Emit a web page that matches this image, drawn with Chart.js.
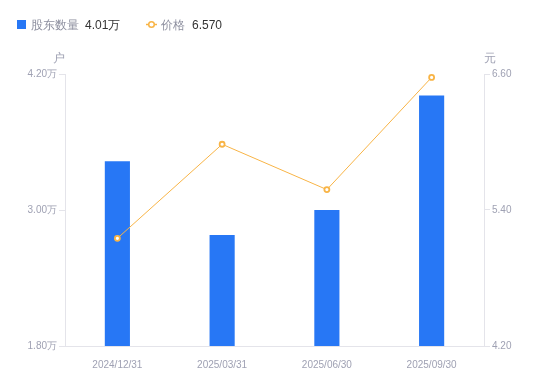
<!DOCTYPE html>
<html>
<head>
<meta charset="utf-8">
<script src="https://cdn.jsdelivr.net/npm/chart.js@4"></script>
<style>
  html, body { margin: 0; padding: 0; background: #fff; }
  #wrap { width: 550px; height: 381px; position: relative; }
</style>
</head>
<body>
<div id="wrap"><canvas id="chart"></canvas></div>
<script>
const categories = ["2024/12/31", "2025/03/31", "2025/06/30", "2025/09/30"];
const holders = [3.43, 2.78, 3.00, 4.01]; // 万户
const prices = [5.15, 5.98, 5.58, 6.57]; // 元
const holderTicks = [1.8, 4.2, 1.2]; // min, max, step
const priceTicks = [4.2, 6.6, 1.2];

const blue = "#2777f5";
const orange = "#f8b446";
const tickColor = "#9fa1b3";
const lineColor = "#e4e4ea";
const font = "'Liberation Sans', Arial, sans-serif";

// legend and axis units drawn on the canvas
const extras = {
  id: "extras",
  afterDraw(chart) {
    const ctx = chart.ctx;
    const area = chart.chartArea;
    ctx.save();
    ctx.textBaseline = "middle";
    ctx.font = "12px " + font;

    ctx.fillStyle = blue;
    ctx.fillRect(17, 20, 9, 9);
    ctx.fillStyle = "#8d8f9f";
    ctx.fillText("股东数量", 31, 25.5);
    ctx.fillStyle = "#333";
    ctx.fillText(holders[holders.length - 1].toFixed(2) + "万", 85, 25.5);

    ctx.strokeStyle = orange;
    ctx.lineWidth = 1.5;
    ctx.beginPath();
    ctx.moveTo(146, 24.5);
    ctx.lineTo(157, 24.5);
    ctx.stroke();
    ctx.fillStyle = "#fff";
    ctx.beginPath();
    ctx.arc(151.5, 24.5, 2.8, 0, Math.PI * 2);
    ctx.fill();
    ctx.stroke();
    ctx.fillStyle = "#8d8f9f";
    ctx.fillText("价格", 161, 25.5);
    ctx.fillStyle = "#333";
    ctx.fillText(prices[prices.length - 1].toFixed(3), 192, 25.5);

    ctx.font = "12px " + font;
    ctx.fillStyle = tickColor;
    ctx.textAlign = "center";
    ctx.fillText("户", area.left - 6, area.top - 15);
    ctx.fillText("元", area.right + 6, area.top - 15);
    ctx.restore();
  },
};

const fixWidth = (w) => (scale) => { scale.width = w; };

new Chart(document.getElementById("chart").getContext("2d"), {
  type: "bar",
  data: {
    labels: categories,
    datasets: [
      {
        type: "line",
        label: "价格",
        data: prices,
        yAxisID: "y1",
        borderColor: orange,
        borderWidth: 1,
        pointRadius: 2.5,
        pointBorderWidth: 1.8,
        pointBackgroundColor: "#fff",
        pointBorderColor: orange,
        order: 0,
      },
      {
        label: "股东数量",
        data: holders,
        yAxisID: "y",
        backgroundColor: blue,
        barPercentage: 0.24,
        categoryPercentage: 1,
        order: 1,
      },
    ],
  },
  options: {
    responsive: true,
    maintainAspectRatio: false,
    animation: false,
    layout: { padding: { top: 74, bottom: 0, left: 0, right: 0 } },
    plugins: { legend: { display: false }, tooltip: { enabled: false } },
    scales: {
      x: {
        grid: { display: false },
        border: { color: lineColor },
        ticks: { color: tickColor, font: { size: 10, family: font }, padding: 5 },
        afterFit: (scale) => { scale.height = 35; },
      },
      y: {
        position: "left",
        min: holderTicks[0],
        max: holderTicks[1],
        ticks: {
          stepSize: holderTicks[2],
          color: tickColor,
          font: { size: 10, family: font },
          padding: 2,
          callback: (v) => v.toFixed(2) + "万",
        },
        grid: { drawOnChartArea: false, tickLength: 6, color: lineColor },
        border: { color: lineColor },
        afterFit: fixWidth(65),
      },
      y1: {
        position: "right",
        min: priceTicks[0],
        max: priceTicks[1],
        ticks: {
          stepSize: priceTicks[2],
          color: tickColor,
          font: { size: 10, family: font },
          padding: 2,
          callback: (v) => v.toFixed(2),
        },
        grid: { drawOnChartArea: false, tickLength: 6, color: lineColor },
        border: { color: lineColor },
        afterFit: fixWidth(66),
      },
    },
  },
  plugins: [extras],
});
</script>
</body>
</html>
